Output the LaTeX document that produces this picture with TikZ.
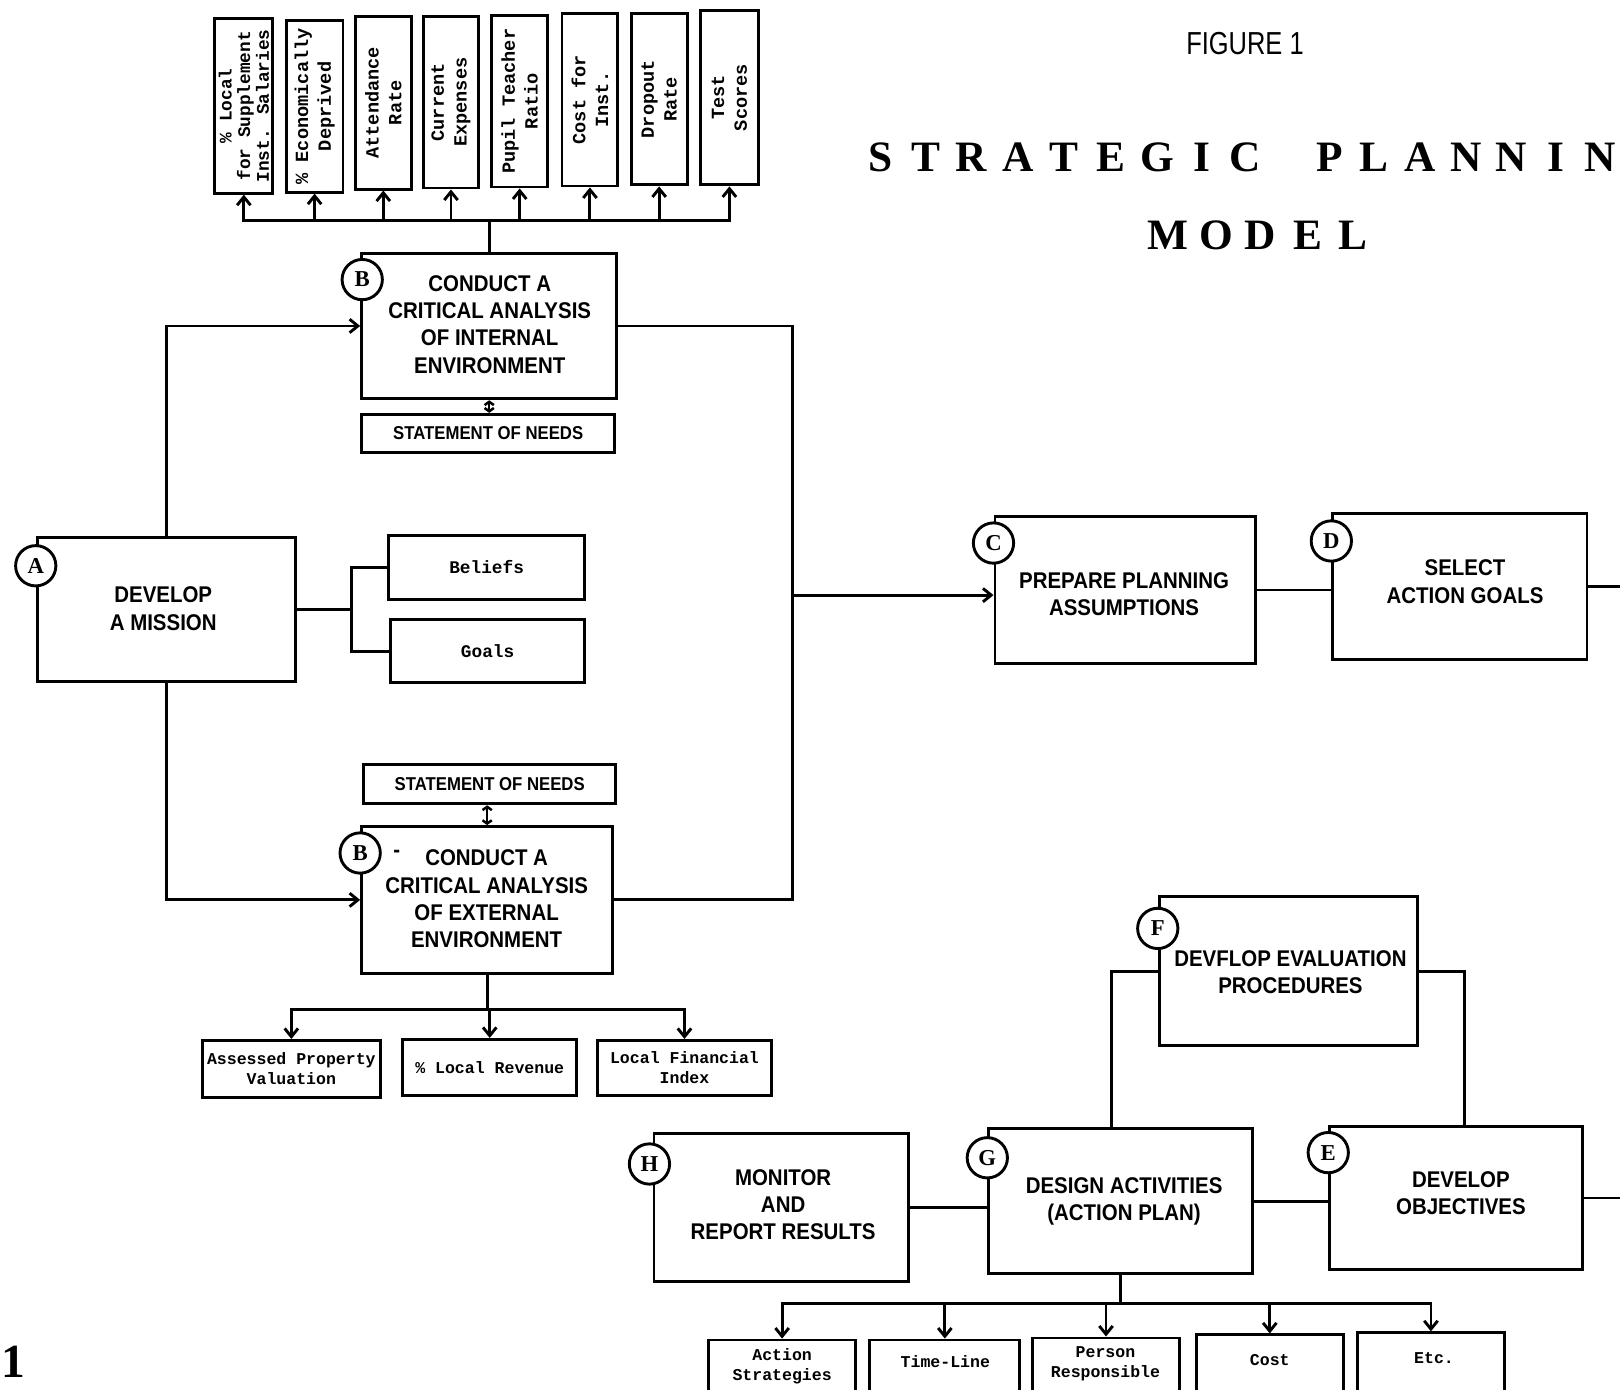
\documentclass[tikz,border=0pt]{standalone}
\usepackage{fontspec}
\setmainfont{Liberation Serif}
\newfontfamily\labf{Liberation Sans}[FakeStretch=0.9]
\newfontfamily\monof{Liberation Mono}
\newfontfamily\figf{Liberation Sans}[FakeStretch=0.8]
\newfontfamily\titf{Liberation Serif}
\usetikzlibrary{fit,arrows.meta,calc}
\tikzset{
 ln/.style={line width=1.4pt},
 box/.style={draw, line width=1.4pt, inner sep=0pt},
 big/.style={font=\labf\bfseries\fontsize{11}{13.2}\selectfont, align=center, inner sep=0pt},
 snf/.style={font=\labf\bfseries\fontsize{9}{11}\selectfont, align=center, inner sep=0pt},
 sml/.style={font=\monof\bfseries\fontsize{8}{9.6}\selectfont, align=center, inner sep=0pt},
 mid/.style={font=\monof\bfseries\fontsize{8.6}{10}\selectfont, align=center, inner sep=0pt},
 rot/.style={font=\monof\bfseries\fontsize{9}{11}\selectfont, align=center, inner sep=0pt, rotate=90},
 rotone/.style={font=\monof\bfseries\fontsize{8.6}{9}\selectfont, align=center, inner sep=0pt, rotate=90},
 circ/.style={circle, draw, fill=white, line width=1.4pt, minimum size=19.5pt, inner sep=0pt, font=\titf\bfseries\fontsize{11}{11}\selectfont},
 tit/.style={font=\titf\bfseries\fontsize{21}{21}\selectfont, inner sep=0pt},
 figst/.style={font=\figf\fontsize{15.4}{16}\selectfont, inner sep=0pt},
 arr/.style={ln, -{Straight Barb[length=4pt,width=6.5pt]}},
 dbl/.style={line width=1.2pt, {Straight Barb[length=1.6pt,width=4.5pt]}-{Straight Barb[length=1.6pt,width=4.5pt]}},
}
\begin{document}
\begin{tikzpicture}[x=0.5pt,y=-0.5pt]
\useasboundingbox (0,0) rectangle (1568,1345);
\fill[white] (0,0) rectangle (1568,1345);
\clip (0,0) rectangle (1568,1345);

% ---------- title ----------
\node[figst] (fig) at (1205,42) {FIGURE 1};
\foreach \ch/\xx [count=\i] in {S/852,T/896,R/940,A/985,T/1030,E/1075,G/1120,I/1163,C/1205,P/1287,L/1330,A/1375,N/1419,N/1463,I/1506,N/1549}
  \node[tit] (tt\i) at (\xx,152) {\ch};
\foreach \ch/\xx [count=\i] in {M/1130,O/1177,D/1220,E/1266,L/1310}
  \node[tit] (tm\i) at (\xx,228) {\ch};
\node[tit, font=\titf\bfseries\fontsize{23}{23}\selectfont] (pg) at (13,1318) {1};

% ---------- top indicator boxes ----------
\node[box, fit={(208,18) (264,187)}] (t1) {};
\node[rotone] (lt1) at (t1.center) {\% Local\\for Supplement\\Inst. Salaries};
\foreach \n/\xa/\xb/\ya/\yb/\t in {
 t2/277/332/20/186/{\% Economically\\Deprived},
 t3/344/398/16/183/{Attendance\\Rate},
 t4/410/463/16/182/{Current\\Expenses},
 t5/476/530/15/181/{Pupil Teacher\\Ratio},
 t6/544/598/13/180/{Cost for\\Inst.},
 t7/611/665/13/179/{Dropout\\Rate},
 t8/678/734/10/179/{Test\\Scores}}
{ \node[box, fit={(\xa,\ya) (\xb,\yb)}] (\n) {};
  \node[rot] (l\n) at (\n.center) {\t}; }

% ---------- main boxes ----------
\node[box, fit={(350,245) (597,386)}] (Bint) {};
\node[big] (Bintt) at (474,314) {CONDUCT A\\CRITICAL ANALYSIS\\OF INTERNAL\\ENVIRONMENT};
\node[box, fit={(350,401) (595,438)}] (SN1) {};
\node[snf] (SN1t) at (SN1.center) {STATEMENT OF NEEDS};

\node[box, fit={(36,520) (286,660)}] (A) {};
\node[big] (At) at (158,589) {DEVELOP\\A MISSION};
\node[box, fit={(376,518) (566,580)}] (Bel) {};
\node[mid] (Belt) at (Bel.center) {Beliefs};
\node[box, fit={(378,600) (566,661)}] (Goa) {};
\node[mid] (Goat) at (Goa.center) {Goals};

\node[box, fit={(352,740) (596,778)}] (SN2) {};
\node[snf] (SN2t) at (SN2.center) {STATEMENT OF NEEDS};
\node[box, fit={(350,800) (593,942)}] (Bext) {};
\node[big] (Bextt) at (471,870) {CONDUCT A\\CRITICAL ANALYSIS\\OF EXTERNAL\\ENVIRONMENT};
\node[big] (stray) at (384,826) {-};

\node[box, fit={(196,1007) (368,1062)}] (AP) {};
\node[sml] (APt) at (AP.center) {Assessed Property\\Valuation};
\node[box, fit={(390,1006) (558,1060)}] (LR) {};
\node[sml] (LRt) at (LR.center) {\% Local Revenue};
\node[box, fit={(578,1007) (747,1060)}] (LF) {};
\node[sml] (LFt) at (LF.center) {Local Financial\\Index};

\node[box, fit={(963,500) (1215,642)}] (C) {};
\node[big] (Ct) at (1088,575) {PREPARE PLANNING\\ASSUMPTIONS};
\node[box, fit={(1290,497) (1536,638)}] (D) {};
\node[big] (Dt) at (1418,563) {SELECT\\ACTION GOALS};

\node[box, fit={(1122,868) (1372,1012)}] (F) {};
\node[big] (Ft) at (1249,941) {DEVFLOP EVALUATION\\PROCEDURES};
\node[box, fit={(957,1092) (1212,1233)}] (G) {};
\node[big] (Gt) at (1088,1163) {DESIGN ACTIVITIES\\(ACTION PLAN)};
\node[box, fit={(1287,1090) (1532,1229)}] (E) {};
\node[big] (Et) at (1414,1155) {DEVELOP\\OBJECTIVES};
\node[box, fit={(633,1097) (879,1240)}] (H) {};
\node[big] (Ht) at (758,1166) {MONITOR\\AND\\REPORT RESULTS};

\node[box, fit={(686,1297) (828,1355)}] (AS) {};
\node[sml] (ASt) at (757,1322) {Action\\Strategies};
\node[box, fit={(842,1297) (987,1355)}] (TL) {};
\node[sml] (TLt) at (915,1318) {Time-Line};
\node[box, fit={(999,1295) (1142,1355)}] (PR) {};
\node[sml] (PRt) at (1070,1320) {Person\\Responsible};
\node[box, fit={(1158,1292) (1300,1355)}] (CO) {};
\node[sml] (COt) at (1229,1316) {Cost};
\node[box, fit={(1314,1290) (1456,1355)}] (ET) {};
\node[sml] (ETt) at (1388,1314) {Etc.};

% ---------- connectors ----------
\coordinate (tbus) at (475,213);
\draw[ln] (Bint.north) -- (Bint.north |- tbus);
\foreach \i in {1,...,8} \draw[arr] (Bint.north |- tbus) -| (t\i.south);

\draw[dbl] (Bint.south) -- (Bint.south |- SN1.north);
\draw[arr] (A.north) |- (Bint.west);
\draw[arr] (A.south) |- (Bext.west);
\coordinate (br) at (340,590);
\draw[ln] (A.east) -- (br);
\draw[ln] (Bel.west) -| (br) |- (Goa.west);

\draw[dbl] (Bext.north) -- (Bext.north |- SN2.south);
\coordinate (bbus) at (477,977);
\draw[ln] (Bext.south) -- (Bext.south |- bbus);
\foreach \n in {AP,LR,LF} \draw[arr] (Bext.south |- bbus) -| (\n.north);

\coordinate (col) at (767,576);
\draw[ln] (Bint.east) -| (col);
\draw[ln] (Bext.east) -| (col);
\draw[arr] (col) -- (C.west |- col);

\coordinate (rout) at (1575,0);
\draw[ln] (C.east) -- (C.east -| D.west);
\draw[ln] (D.east) -- (D.east -| rout);

\draw[ln] (F.west) -| ($(G.north)+(-9,0)$);
\draw[ln] (F.east) -| ($(E.north)+(8,0)$);
\draw[ln] (G.east) -- (G.east -| E.west);
\draw[ln] (H.east) -- (H.east -| G.west);
\draw[ln] (E.east) -- (E.east -| rout);

\coordinate (gbus) at (0,1262);
\draw[ln] (G.south) -- (G.south |- gbus);
\foreach \n in {AS,TL,PR,CO,ET} \draw[arr] (G.south |- gbus) -| (\n.north);

% ---------- letter circles ----------
\node[circ] (cA) at ($(A.north west)+(0,29)$) {A};
\node[circ] (cB1) at ($(Bint.north west)+(2,27)$) {B};
\node[circ] (cB2) at ($(Bext.north west)+(0,27)$) {B};
\node[circ] (cC) at ($(C.north west)+(0,27)$) {C};
\node[circ] (cD) at ($(D.north west)+(0,28)$) {D};
\node[circ] (cF) at ($(F.north west)+(0,32)$) {F};
\node[circ] (cG) at ($(G.north west)+(0,30)$) {G};
\node[circ] (cE) at ($(E.north west)+(0,27)$) {E};
\node[circ] (cH) at ($(H.north west)+(-3,31)$) {H};
\end{tikzpicture}
\end{document}
